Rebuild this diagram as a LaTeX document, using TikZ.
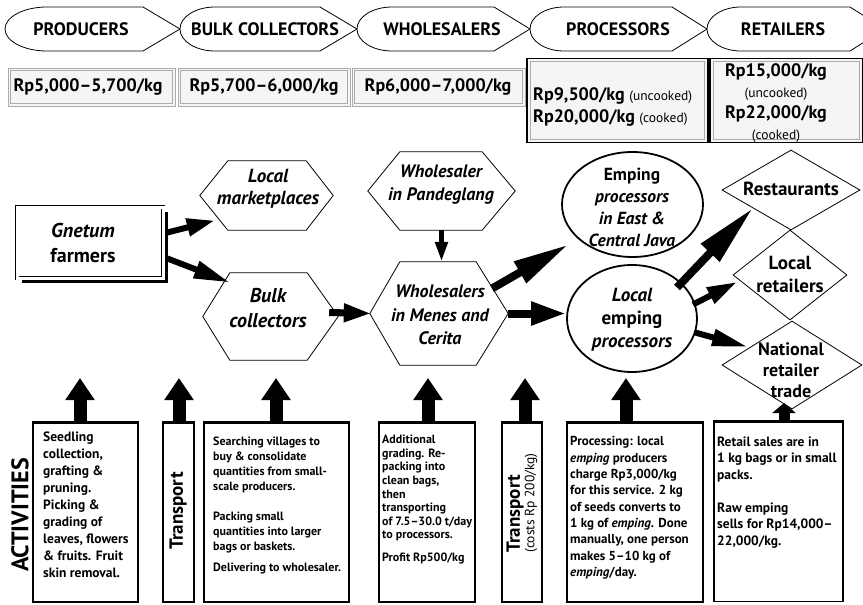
\documentclass[tikz,border=0pt]{standalone}
\usepackage{fontspec}
\setmainfont{PT Sans}
\usetikzlibrary{arrows.meta,shapes.geometric,shadows,calc}
\tikzset{
  hdr/.style={draw, line width=0.8pt, fill=white},
  htxt/.style={inner sep=0pt, font=\fontsize{18}{20}\selectfont\bfseries},
  pbox/.style={draw=gray!65, line width=1pt, fill=gray!8, inner sep=0pt},
  pboxk/.style={draw=black, line width=1.6pt, fill=gray!8, inner sep=0pt},
  pinner/.style={draw=gray!65, line width=0.8pt},
  ptxt/.style={inner sep=0pt, font=\fontsize{18}{22}\selectfont\bfseries},
  hexnode/.style={inner sep=0pt, draw=none},
  hexline/.style={line width=0.8pt},
  mtxt/.style={inner sep=0pt, align=center, font=\fontsize{19}{23}\selectfont\bfseries},
  ell/.style={ellipse, draw, line width=1.8pt, inner sep=0pt},
  dia/.style={diamond, draw, line width=0.8pt, inner sep=0pt},
  fat/.style n args={3}{line width=#1, -{Triangle[length=#2, width=#3]}},
  uparrow/.style={line width=13pt, -{Triangle[length=22pt, width=28pt]}},
  abox/.style={draw, line width=1.2pt, inner sep=0pt, minimum height=179pt},
  atxt/.style={anchor=north west, inner sep=0pt, align=left},
}
\newcommand{\hexpath}[3]{%
  \draw[hexline] (#1.west) -- ($(#1.north west)+(#2,0)$) -- ($(#1.north east)+(-#3,0)$)
    -- (#1.east) -- ($(#1.south east)+(-#3,0)$) -- ($(#1.south west)+(#2,0)$) -- cycle;}
\newcommand{\thicktop}[1]{\draw[line width=3pt] (#1.north west) -- (#1.north east);}
\newcommand{\innerbox}[2]{\draw[pinner] ($(#1.north west)+(#2,#2)$) rectangle ($(#1.south east)+(-#2,-#2)$);}
\begin{document}
\begin{tikzpicture}[x=1pt,y=-1pt]
\useasboundingbox (0,0) rectangle (863,605);
\clip (0,0) rectangle (863,605);
\fill[white] (0,0) rectangle (863,605);

% ---------- header arrows ----------
\draw[hdr] (47,7) -- (143,7) -- (180,29) -- (143,51) -- (47,51) arc[start angle=90,end angle=270,x radius=42,y radius=22] -- cycle;
\draw[hdr] (215,7) -- (320,7) -- (357,29) -- (320,51) -- (215,51) arc[start angle=90,end angle=270,x radius=35,y radius=22] -- cycle;
\draw[hdr] (392,7) -- (494,7) -- (530,29) -- (494,51) -- (392,51) arc[start angle=90,end angle=270,x radius=35,y radius=22] -- cycle;
\draw[hdr] (564,7) -- (672,7) -- (707,29) -- (672,51) -- (564,51) arc[start angle=90,end angle=270,x radius=34,y radius=22] -- cycle;
\draw[hdr] (741,7) -- (850,7) -- (885,29) -- (850,51) -- (741,51) arc[start angle=90,end angle=270,x radius=34,y radius=22] -- cycle;
\node[htxt] (h1) at (81,29) {PRODUCERS};
\node[htxt] (h2) at (265,29) {BULK COLLECTORS};
\node[htxt] (h3) at (442,29) {WHOLESALERS};
\node[htxt] (h4) at (618,29) {PROCESSORS};
\node[htxt] (h5) at (783,29) {RETAILERS};

% ---------- prices ----------
\node[pbox, minimum width=167pt, minimum height=38pt] (p1) at (91.5,87) {};
\node[pbox, minimum width=172pt, minimum height=38pt] (p2) at (264,87) {};
\node[pbox, minimum width=173pt, minimum height=38pt] (p3) at (438.5,87) {};
\node[pboxk, minimum width=181pt, minimum height=84pt] (p4) at (617.5,100.5) {};
\node[pboxk, minimum width=153pt, minimum height=84pt] (p5) at (786.5,100.5) {};
\innerbox{p1}{3}\innerbox{p2}{3}\innerbox{p3}{3}\innerbox{p4}{4}\innerbox{p5}{4}
\node[ptxt] (p1t) at (88,87) {Rp5,000–5,700/kg};
\node[ptxt] (p2t) at (264,87) {Rp5,700–6,000/kg};
\node[ptxt] (p3t) at (438,87) {Rp6,000–7,000/kg};
\node[ptxt, anchor=west, align=left] (p4t) at (533,107)
  {Rp9,500/kg {\mdseries\fontsize{13.5}{22}\selectfont(uncooked)}\\Rp20,000/kg {\mdseries\fontsize{13.5}{22}\selectfont(cooked)}};
\node[ptxt, align=center, font=\fontsize{18}{21}\selectfont\bfseries] (p5t) at (776,103)
  {Rp15,000/kg\\{\mdseries\fontsize{13.5}{21}\selectfont(uncooked)}\\Rp22,000/kg\\{\mdseries\fontsize{13.5}{21}\selectfont(cooked)}};

% ---------- middle chain ----------
\node[draw, line width=0.8pt, double=white, double distance=3pt, fill=white,
      minimum width=146pt, minimum height=71pt, inner sep=0pt,
      drop shadow={fill=black, opacity=1, shadow xshift=5pt, shadow yshift=-5pt}] (gn) at (90,242.5) {};
\node[mtxt, font=\fontsize{20}{25}\selectfont\bfseries] (gnt) at (83,243) {{\itshape Gnetum}\\farmers};

\node[hexnode, minimum width=133pt, minimum height=69pt] (lm) at (266.5,195.5) {};
\hexpath{lm}{28}{27}
\node[mtxt, font=\fontsize{19}{22}\selectfont\bfseries\itshape] (lmt) at (268,189) {Local\\marketplaces};

\node[hexnode, minimum width=135pt, minimum height=87pt] (bc) at (270.5,316.5) {};
\hexpath{bc}{27}{31}
\node[mtxt, font=\fontsize{20}{25}\selectfont\bfseries\itshape] (bct) at (268,308) {Bulk\\collectors};

\node[hexnode, minimum width=147pt, minimum height=78pt] (pd) at (441.5,191) {};
\hexpath{pd}{32}{33}
\node[mtxt, font=\fontsize{18}{23}\selectfont\bfseries\itshape] (pdt) at (441,185) {Wholesaler\\in Pandeglang};

\node[hexnode, minimum width=138pt, minimum height=103pt] (mc) at (439,313.5) {};
\hexpath{mc}{30}{32}
\node[mtxt, font=\fontsize{18}{23.5}\selectfont\bfseries\itshape] (mct) at (440,315) {Wholesalers\\in Menes and\\Cerita};

\node[ell, minimum width=141pt, minimum height=105pt] (ee) at (632.5,204.5) {};
\node[mtxt, font=\fontsize{17.5}{22}\selectfont\bfseries] (eet) at (632,207) {Emping\\{\itshape processors}\\{\itshape in East \&}\\{\itshape Central Java}};

\node[ell, minimum width=130pt, minimum height=107pt] (le) at (632,318.5) {};
\node[mtxt, font=\fontsize{19}{23}\selectfont\bfseries] (let) at (632,320) {{\itshape Local}\\emping\\{\itshape processors}};

\node[dia, minimum width=138pt, minimum height=80pt] (rs) at (791,190) {};
\node[mtxt] (rst) at (791,189) {Restaurants};
\node[dia, minimum width=114pt, minimum height=90pt] (lr) at (790,275) {};
\node[mtxt, font=\fontsize{19}{23}\selectfont\bfseries] (lrt) at (790,274) {Local\\retailers};
\node[dia, minimum width=140pt, minimum height=88pt] (nr) at (792,365) {};
\node[mtxt, font=\fontsize{18}{21}\selectfont\bfseries] (nrt) at (791,370) {National\\retailer\\trade};

% ---------- connectors ----------
\draw[fat={6pt}{28pt}{17pt}] ($(gn.east)+(4,-10)$) -- ($(lm.west)+(15,25)$);
\draw[fat={6pt}{36pt}{17pt}] ($(gn.east)+(4,16)$) -- ($(bc.west)+(27,-34)$);
\draw[fat={7pt}{28pt}{17pt}] ($(bc.east)+(-9,-4)$) -- ($(mc.west)+(2,0)$);
\draw[fat={5pt}{20pt}{12pt}] (pd.south) -- (pd.south |- mc.north);
\draw[fat={8pt}{56pt}{23pt}] ($(mc.center)+(53,-25)$) -- ($(ee.center)+(-64,40)$);
\draw[fat={8pt}{35pt}{22pt}] (mc.east) -- (mc.east -| le.west);
\draw[fat={8pt}{62pt}{24pt}] ($(le.center)+(45,-31)$) -- ($(rs.center)+(-38,18)$);
\draw[fat={6pt}{30pt}{17pt}] ($(le.center)+(61,-14)$) -- ($(lr.center)+(-53,7)$);
\draw[fat={6pt}{36pt}{16pt}] ($(le.center)+(63,14)$) -- ($(nr.center)+(-44,-18)$);

% ---------- activities ----------
\node[rotate=90, inner sep=0pt, font=\fontsize{24}{24}\selectfont\bfseries] (act) at (20,515) {ACTIVITIES};

\node[abox, minimum width=105pt] (b1) at (85.5,512.5) {};
\node[abox, minimum width=31pt] (b2) at (178.5,512.5) {};
\node[abox, minimum width=145pt] (b3) at (276.5,512.5) {};
\node[abox, minimum width=96pt] (b4) at (427,512.5) {};
\node[abox, minimum width=40pt] (b5) at (522,512.5) {};
\node[abox, minimum width=136pt] (b6) at (635,512.5) {};
\node[abox, minimum width=129pt] (b7) at (778.5,512) {};
\thicktop{b1}\thicktop{b2}\thicktop{b3}\thicktop{b4}\thicktop{b5}\thicktop{b6}\thicktop{b7}

\coordinate (t1) at (80,378);
\coordinate (t2) at (179,378);
\coordinate (t3) at (276,378);
\coordinate (t4) at (428,378);
\coordinate (t5) at (525,378);
\coordinate (t6) at (626,378);
\coordinate (t7) at (784,403);
\draw[uparrow] (b1.north -| t1) -- (t1);
\draw[uparrow] (b2.north -| t2) -- (t2);
\draw[uparrow] (b3.north -| t3) -- (t3);
\draw[uparrow] (b4.north -| t4) -- (t4);
\draw[uparrow] (b5.north -| t5) -- (t5);
\draw[uparrow] (b6.north -| t6) -- (t6);
\draw[line width=11pt, -{Triangle[length=10pt, width=23pt]}] (b7.north -| t7) -- (t7);

\node[atxt, font=\fontsize{13.5}{17}\selectfont\bfseries] (b1t) at (43,432)
  {Seedling\\collection,\\grafting \&\\pruning.\\Picking \&\\grading of\\leaves, flowers\\\& fruits. Fruit\\skin removal.};
\node[rotate=90, inner sep=0pt, font=\fontsize{19}{19}\selectfont\bfseries] (b2t) at (178,511) {Transport};
\node[atxt, font=\fontsize{12}{15}\selectfont\bfseries] (b3t) at (213,437)
  {Searching villages to\\buy \& consolidate\\quantities from small-\\scale producers.\\[15pt]Packing small\\quantities into larger\\bags or baskets.\\[6pt]Delivering to wholesaler.};
\node[atxt, font=\fontsize{12}{13.6}\selectfont\bfseries] (b4t) at (382,435)
  {Additional\\grading. Re-\\packing into\\clean bags,\\then\\transporting\\of 7.5–30.0 t/day\\to processors.\\[9pt]Profit Rp500/kg};
\node[rotate=90, inner sep=0pt, align=left] (b5t) at (522,503)
  {{\fontsize{19}{14}\selectfont\bfseries Transport}\\{\fontsize{13.5}{14}\selectfont (costs Rp 200/kg)}};
\node[atxt, font=\fontsize{13}{16.3}\selectfont\bfseries] (b6t) at (570,436.5)
  {Processing: local\\{\itshape emping} producers\\charge Rp3,000/kg\\for this service. 2 kg\\of seeds converts to\\1 kg of {\itshape emping}. Done\\manually, one person\\makes 5–10 kg of\\{\itshape emping}/day.};
\node[atxt, font=\fontsize{13.5}{16.5}\selectfont\bfseries] (b7t) at (717,436.5)
  {Retail sales are in\\1 kg bags or in small\\packs.\\[16.5pt]Raw emping\\sells for Rp14,000–\\22,000/kg.};
\end{tikzpicture}
\end{document}
